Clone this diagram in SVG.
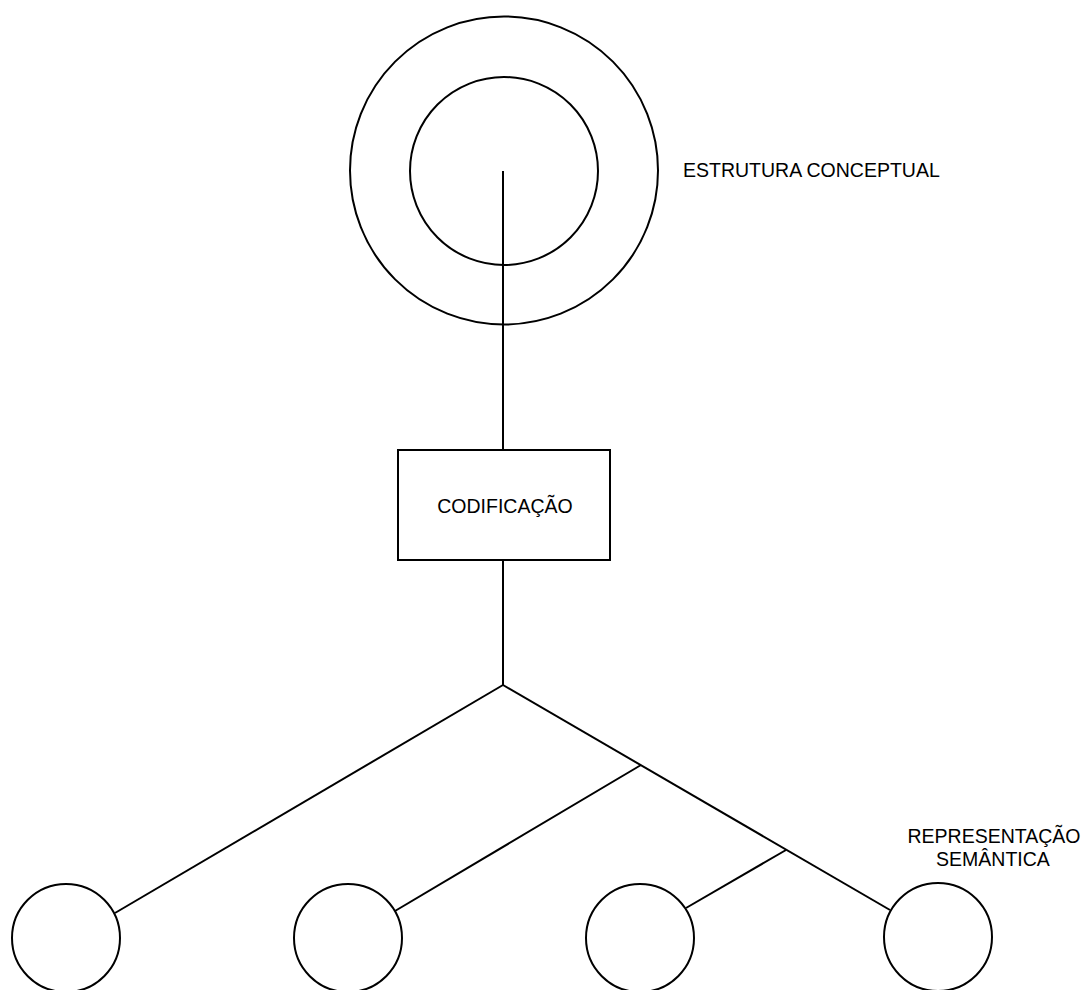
<svg xmlns="http://www.w3.org/2000/svg" width="1085" height="990" viewBox="0 0 1085 990">
<style>
.s{fill:none;stroke:#000;stroke-width:2}
.b{fill:#fff;stroke:#000;stroke-width:2}
.t{font-family:"Liberation Sans",Arial,Helvetica,sans-serif;font-size:19.5px;fill:#000}
</style>
<rect width="1085" height="990" fill="#fff"/>
<g id="connectors">
<line class="s" x1="503" y1="171" x2="503" y2="450"/>
<line class="s" x1="503" y1="560" x2="503" y2="685"/>
<line class="s" x1="503" y1="685" x2="115" y2="913"/>
<line class="s" x1="503" y1="685" x2="890" y2="910"/>
<line class="s" x1="641" y1="765" x2="395" y2="911"/>
<line class="s" x1="786" y1="850" x2="686" y2="908"/>
</g>
<g id="estrutura-conceptual">
<circle class="s" cx="504" cy="170.5" r="154"/>
<circle class="s" cx="504" cy="171" r="94"/>
<text class="t" x="683" y="177">ESTRUTURA CONCEPTUAL</text>
</g>
<g id="codificacao">
<rect class="b" x="398" y="450" width="212" height="110"/>
<text class="t" x="505" y="513" text-anchor="middle">CODIFICAÇÃO</text>
</g>
<g id="no1"><circle class="s" cx="66" cy="938" r="54"/></g>
<g id="no2"><circle class="s" cx="348" cy="938" r="54"/></g>
<g id="no3"><circle class="s" cx="640" cy="938" r="54"/></g>
<g id="no4"><circle class="s" cx="938" cy="937" r="54"/></g>
<g id="representacao-semantica">
<text class="t" x="994" y="843" text-anchor="middle">REPRESENTAÇÃO</text>
<text class="t" x="993" y="866" text-anchor="middle">SEMÂNTICA</text>
</g>
</svg>
